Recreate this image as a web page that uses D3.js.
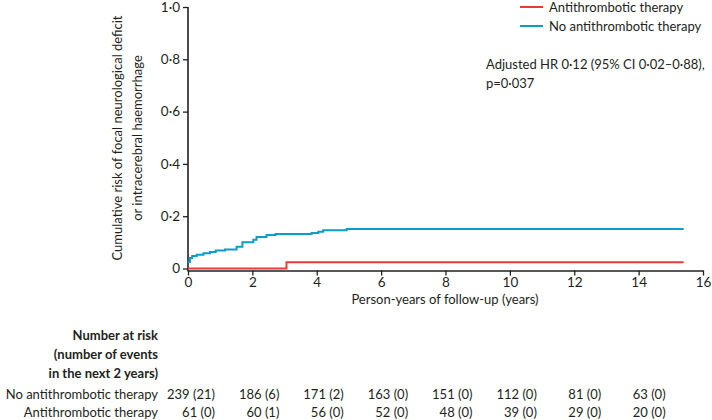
<!DOCTYPE html>
<html>
<head>
<meta charset="utf-8">
<script src="https://cdn.jsdelivr.net/npm/d3@7"></script>
<style>
  body { margin: 0; background: #fff; }
  svg text { font-family: Lato, "Open Sans", sans-serif; fill: #231f20; }
</style>
</head>
<body>
<div id="chart"></div>
<script>
// Kaplan-Meier style cumulative risk
const seriesNames = ["Antithrombotic therapy", "No antithrombotic therapy"];

// [years, cumulative risk]
const noAntiSteps = [
    [0, 0.025], [0.06, 0.04], [0.13, 0.048], [0.27, 0.053], [0.48, 0.058],
    [0.68, 0.063], [0.86, 0.069], [1.15, 0.073], [1.51, 0.083], [1.69, 0.1],
    [2.03, 0.11], [2.13, 0.12], [2.44, 0.128], [2.72, 0.132], [3.84, 0.136],
    [4.05, 0.141], [4.2, 0.146], [4.93, 0.151], [15.4, 0.151]
];
const antiSteps = [
    [0, 0], [3.06, 0.024], [15.4, 0.024]
];

const xTicks = [0, 2, 4, 6, 8, 10, 12, 14, 16];
const yTicks = [0, 0.2, 0.4, 0.6, 0.8, 1.0];

const riskTimes = [0, 2, 4, 6, 8, 10, 12, 14];
const riskNoAnti = ["239 (21)", "186 (6)", "171 (2)", "163 (0)", "151 (0)", "112 (0)", "81 (0)", "63 (0)"];
const riskAnti = ["61 (0)", "60 (1)", "56 (0)", "52 (0)", "48 (0)", "39 (0)", "29 (0)", "20 (0)"];

const COLORS = {
    anti: "#ec3a3a",
    noAnti: "#0d9ccc",
    axis: "#231f20"
};

const FONT = "13px";
const width = 712, height = 420;
const fmt = d => d === 0 ? "0" : d3.format(".1f")(d).replace(".", "·");

const svg = d3.select("#chart").append("svg")
    .attr("width", width)
    .attr("height", height);

const x = d3.scaleLinear().domain([0, 16]).range([188, 703]);
const y = d3.scaleLinear().domain([0, 1]).range([268.5, 7]);

// axes
const xAxis = svg.append("g")
    .attr("transform", "translate(0,270.5)")
    .call(d3.axisBottom(x).tickValues(xTicks).tickSize(5).tickSizeOuter(0).tickPadding(2));
const yAxis = svg.append("g")
    .attr("transform", "translate(188,0)")
    .call(d3.axisLeft(y).tickValues(yTicks).tickFormat(fmt).tickSize(5).tickSizeOuter(0).tickPadding(3));
yAxis.select(".domain").attr("d", `M0,${y(1)}V271.5`);

[xAxis, yAxis].forEach(g => {
    g.select(".domain").attr("stroke", COLORS.axis).attr("stroke-width", 1.6);
    g.selectAll(".tick line").attr("stroke", COLORS.axis).attr("stroke-width", 1.3);
    g.selectAll(".tick text")
        .attr("fill", COLORS.axis)
        .style("font-family", "Lato, sans-serif")
        .style("font-size", "13.5px");
});

// axis titles
svg.append("text")
    .attr("transform", "translate(122,138) rotate(-90)")
    .attr("text-anchor", "middle")
    .style("font-size", FONT)
    .text("Cumulative risk of focal neurological deficit");
svg.append("text")
    .attr("transform", "translate(142,138) rotate(-90)")
    .attr("text-anchor", "middle")
    .style("font-size", FONT)
    .text("or intracerebral haemorrhage");
svg.append("text")
    .attr("x", 445).attr("y", 304)
    .attr("text-anchor", "middle")
    .style("font-size", FONT)
    .text("Person-years of follow-up (years)");

// curves
const line = d3.line()
    .x(d => x(d[0]))
    .y(d => y(d[1]))
    .curve(d3.curveStepAfter);

svg.append("path")
    .datum(noAntiSteps)
    .attr("d", line)
    .attr("fill", "none")
    .attr("stroke", COLORS.noAnti)
    .attr("stroke-width", 2);
svg.append("path")
    .datum(antiSteps)
    .attr("d", line)
    .attr("fill", "none")
    .attr("stroke", COLORS.anti)
    .attr("stroke-width", 2);

// legend
const legend = svg.append("g");
[COLORS.anti, COLORS.noAnti].forEach((c, i) => {
    legend.append("line")
        .attr("x1", 520).attr("x2", 543)
        .attr("y1", 7 + i * 19).attr("y2", 7 + i * 19)
        .attr("stroke", c).attr("stroke-width", 2);
    legend.append("text")
        .attr("x", 549).attr("y", 12 + i * 19)
        .style("font-size", FONT)
        .text(seriesNames[i]);
});

// annotation
svg.append("text")
    .attr("x", 486).attr("y", 69)
    .style("font-size", FONT)
    .text("Adjusted HR 0·12 (95% CI 0·02–0·88),");
svg.append("text")
    .attr("x", 486).attr("y", 88)
    .style("font-size", FONT)
    .text("p=0·037");

// number at risk table
const header = ["Number at risk", "(number of events", "in the next 2 years)"];
header.forEach((t, i) => {
    svg.append("text")
        .attr("x", 158).attr("y", 340 + i * 19)
        .attr("text-anchor", "end")
        .style("font-size", FONT)
        .style("font-weight", "bold")
        .text(t);
});

const rows = [
    { label: seriesNames[1], values: riskNoAnti, yPos: 399 },
    { label: seriesNames[0], values: riskAnti, yPos: 417 }
];
rows.forEach(r => {
    svg.append("text")
        .attr("x", 158).attr("y", r.yPos)
        .attr("text-anchor", "end")
        .style("font-size", FONT)
        .text(r.label);
    svg.selectAll(null)
        .data(riskTimes)
        .enter()
        .append("text")
        .attr("x", (d) => x(d) + 27)
        .attr("y", r.yPos)
        .attr("text-anchor", "end")
        .style("font-size", FONT)
        .text((d, i) => r.values[i]);
});
</script>
</body>
</html>
